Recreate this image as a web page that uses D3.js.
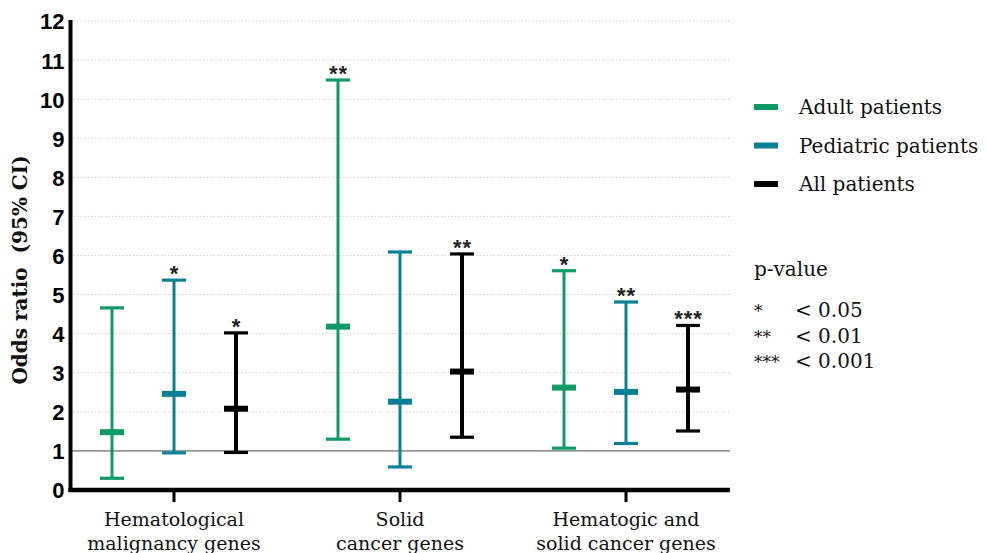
<!doctype html>
<html lang="en">
<head>
	<meta charset="UTF-8">
	<title>Odds ratio chart</title>
	<style>
		body { margin: 0; background: #fff; }
		svg { display: block; }
		.tick-label { font-family: "Liberation Sans", Arial, sans-serif; font-weight: bold; font-size: 22px; fill: #000; }
		.serif { font-family: "DejaVu Serif", "Liberation Serif", serif; fill: #111; }
		.star { font-family: "Liberation Sans", Arial, sans-serif; font-weight: bold; font-size: 22px; fill: #222; text-anchor: middle; letter-spacing: 1px; }
	</style>
</head>
<body>
	<script src="https://cdn.jsdelivr.net/npm/d3@7/dist/d3.min.js"></script>
	<script>
		// ---- data ----
		var categories = ['Hematological\nmalignancy genes', 'Solid\ncancer genes', 'Hematogic and\nsolid cancer genes'];
		var seriesNames = ['Adult patients', 'Pediatric patients', 'All patients'];
		var seriesColors = ['#0f9a67', '#0b7f97', '#000000'];

		// odds ratio (median), lower and upper 95% CI, per category
		var adultOR = [1.48, 4.18, 2.62];
		var adultLow = [0.30, 1.30, 1.07];
		var adultHigh = [4.66, 10.49, 5.61];

		var pediatricOR = [2.46, 2.26, 2.51];
		var pediatricLow = [0.95, 0.59, 1.19];
		var pediatricHigh = [5.37, 6.09, 4.81];

		var allOR = [2.08, 3.03, 2.57];
		var allLow = [0.96, 1.35, 1.51];
		var allHigh = [4.02, 6.04, 4.21];

		var adultStars = ['', '**', '*'];
		var pediatricStars = ['*', '', '**'];
		var allStars = ['*', '**', '***'];

		var yTicks = [0, 1, 2, 3, 4, 5, 6, 7, 8, 9, 10, 11, 12];
		var pLegend = [['*', '< 0.05'], ['**', '< 0.01'], ['***', '< 0.001']];

		var w = 988,
			h = 553;

		var svg = d3.select('body')
			.append('svg')
			.attr('width', w)
			.attr('height', h);

		// build rows from the arrays
		var series = [
			{ name: seriesNames[0], color: seriesColors[0], or: adultOR, lo: adultLow, hi: adultHigh, stars: adultStars, lw: 3 },
			{ name: seriesNames[1], color: seriesColors[1], or: pediatricOR, lo: pediatricLow, hi: pediatricHigh, stars: pediatricStars, lw: 3 },
			{ name: seriesNames[2], color: seriesColors[2], or: allOR, lo: allLow, hi: allHigh, stars: allStars, lw: 4 }
		];

		var rows = [];
		series.forEach(function(s) {
			categories.forEach(function(c, i) {
				rows.push({ cat: c, series: s.name, color: s.color, lw: s.lw, or: s.or[i], lo: s.lo[i], hi: s.hi[i], star: s.stars[i] });
			});
		});

		// scales
		var axisLeft = 70.5,
			axisRight = 730,
			axisBottom = 490;

		var yScale = d3.scaleLinear()
			.domain([0, 12])
			.range([axisBottom, 21]);

		var xScale = d3.scaleBand()
			.domain(categories)
			.range([61, 739]);

		var xInner = d3.scalePoint()
			.domain(seriesNames)
			.range([-62, 62]);

		var getX = function(d) {
			return xScale(d.cat) + xScale.bandwidth() / 2 + xInner(d.series);
		};

		// dotted grid lines
		svg.append('g')
			.selectAll('line')
			.data(yTicks.filter(function(t) { return t > 1; }))
			.enter()
			.append('line')
			.attr('x1', axisLeft + 3)
			.attr('x2', axisRight)
			.attr('y1', function(d) { return yScale(d); })
			.attr('y2', function(d) { return yScale(d); })
			.attr('stroke', '#d0d0d0')
			.attr('stroke-width', 1)
			.attr('stroke-dasharray', '1.5,2');

		// reference line at OR = 1
		svg.append('line')
			.attr('x1', axisLeft)
			.attr('x2', axisRight)
			.attr('y1', yScale(1))
			.attr('y2', yScale(1))
			.attr('stroke', '#6e6e6e')
			.attr('stroke-width', 1.3);

		// y axis
		var yAxis = d3.axisLeft(yScale)
			.tickValues(yTicks)
			.tickSize(0)
			.tickPadding(6);

		var yG = svg.append('g')
			.attr('transform', 'translate(' + axisLeft + ',0)')
			.call(yAxis);
		yG.select('.domain').remove();
		yG.selectAll('text')
			.attr('class', 'tick-label')
			.attr('dy', '0.36em');

		svg.append('line')
			.attr('x1', axisLeft)
			.attr('x2', axisLeft)
			.attr('y1', yScale(12) - 1)
			.attr('y2', axisBottom + 2)
			.attr('stroke', '#000')
			.attr('stroke-width', 4);

		// x axis
		var xAxis = d3.axisBottom(xScale)
			.tickSize(12)
			.tickFormat('');

		var xG = svg.append('g')
			.attr('transform', 'translate(0,' + axisBottom + ')')
			.call(xAxis);
		xG.select('.domain').remove();
		xG.selectAll('.tick line')
			.attr('stroke', '#000')
			.attr('stroke-width', 3);

		svg.append('line')
			.attr('x1', axisLeft - 2)
			.attr('x2', axisRight)
			.attr('y1', axisBottom)
			.attr('y2', axisBottom)
			.attr('stroke', '#000')
			.attr('stroke-width', 4.5);

		// category labels (second line runs off the bottom edge as in the original)
		categories.forEach(function(c) {
			var t = svg.append('text')
				.attr('class', 'serif')
				.attr('text-anchor', 'middle')
				.attr('font-size', 19)
				.attr('x', xScale(c) + xScale.bandwidth() / 2)
				.attr('y', 526);
			c.split('\n').forEach(function(line, i) {
				t.append('tspan')
					.attr('x', xScale(c) + xScale.bandwidth() / 2)
					.attr('dy', i === 0 ? 0 : 24)
					.text(line);
			});
		});

		// y axis title
		svg.append('text')
			.attr('class', 'serif')
			.attr('font-weight', 'bold')
			.attr('font-size', 20)
			.attr('text-anchor', 'middle')
			.attr('transform', 'translate(27,' + 270 + ') rotate(-90)')
			.text('Odds ratio\u00a0 (95% CI)');

		// error bars
		var capW = 24;
		var bars = svg.append('g')
			.selectAll('g')
			.data(rows)
			.enter()
			.append('g');

		bars.append('line')
			.attr('x1', getX)
			.attr('x2', getX)
			.attr('y1', function(d) { return yScale(d.lo); })
			.attr('y2', function(d) { return yScale(d.hi); })
			.attr('stroke', function(d) { return d.color; })
			.attr('stroke-width', function(d) { return d.lw; });

		bars.selectAll('.cap')
			.data(function(d) { return [{ v: d.lo, p: d }, { v: d.hi, p: d }]; })
			.enter()
			.append('line')
			.attr('class', 'cap')
			.attr('x1', function(d) { return getX(d.p) - capW / 2; })
			.attr('x2', function(d) { return getX(d.p) + capW / 2; })
			.attr('y1', function(d) { return yScale(d.v); })
			.attr('y2', function(d) { return yScale(d.v); })
			.attr('stroke', function(d) { return d.p.color; })
			.attr('stroke-width', 3.2);

		bars.append('rect')
			.attr('x', function(d) { return getX(d) - capW / 2; })
			.attr('y', function(d) { return yScale(d.or) - 3; })
			.attr('width', capW)
			.attr('height', 6)
			.attr('fill', function(d) { return d.color; });

		bars.append('text')
			.attr('class', 'star')
			.attr('x', function(d) { return getX(d) + 0.5; })
			.attr('y', function(d) { return yScale(d.hi) + 1; })
			.text(function(d) { return d.star; });

		// legend
		var legend = svg.append('g')
			.selectAll('g')
			.data(series)
			.enter()
			.append('g')
			.attr('transform', function(d, i) { return 'translate(754,' + (107 + i * 38.5) + ')'; });

		legend.append('rect')
			.attr('x', 0)
			.attr('y', -3)
			.attr('width', 24)
			.attr('height', 6)
			.attr('fill', function(d) { return d.color; });

		legend.append('text')
			.attr('class', 'serif')
			.attr('font-size', 20)
			.attr('x', 45)
			.attr('y', 7)
			.text(function(d) { return d.name; });

		svg.append('text')
			.attr('class', 'serif')
			.attr('font-size', 20)
			.attr('x', 754)
			.attr('y', 276)
			.text('p-value');

		var pg = svg.append('g')
			.selectAll('g')
			.data(pLegend)
			.enter()
			.append('g')
			.attr('transform', function(d, i) { return 'translate(754,' + (317 + i * 25.5) + ')'; });

		pg.append('text')
			.attr('class', 'serif')
			.attr('font-size', 17)
			.attr('x', 0)
			.attr('y', 0)
			.text(function(d) { return d[0]; });

		pg.append('text')
			.attr('class', 'serif')
			.attr('font-size', 20)
			.attr('x', 41)
			.attr('y', 0)
			.text(function(d) { return d[1]; });
	</script>
</body>
</html>
